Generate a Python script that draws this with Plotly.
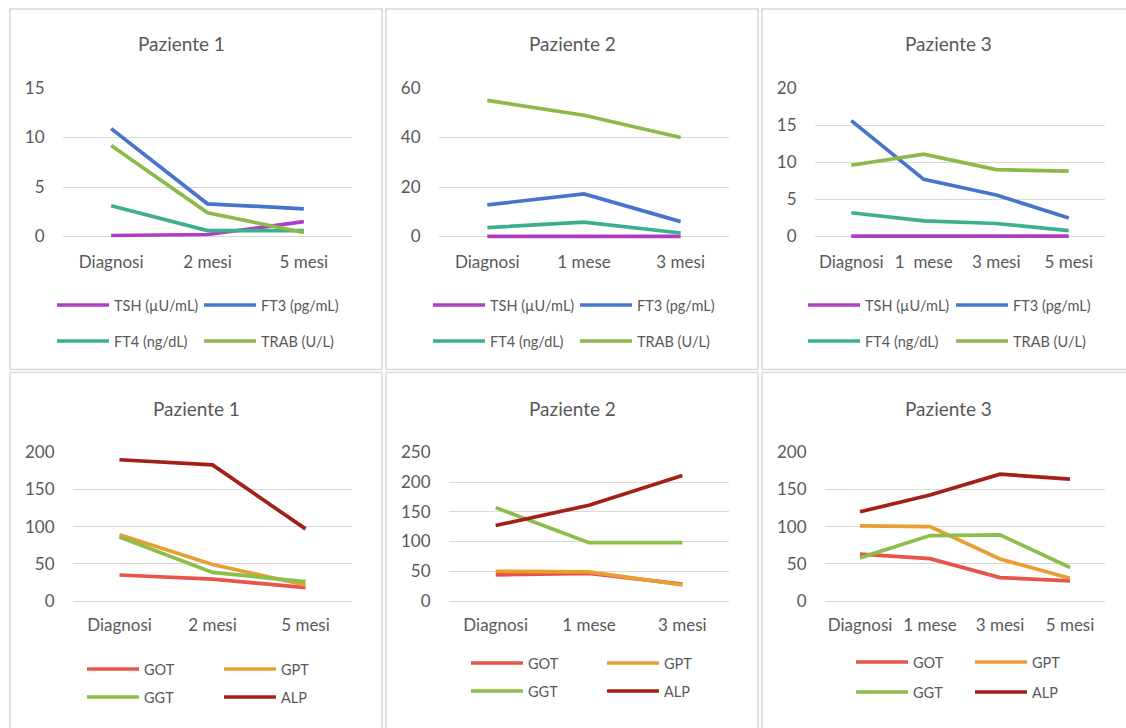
import plotly.graph_objects as go

W, H = 1126, 728

# ---------------- data ----------------
cat_p1 = ["Diagnosi", "2 mesi", "5 mesi"]
cat_p2 = ["Diagnosi", "1 mese", "3 mesi"]
cat_p3_top = ["Diagnosi", "1\u00a0 mese", "3 mesi", "5 mesi"]
cat_p3_bot = ["Diagnosi", "1 mese", "3 mesi", "5 mesi"]

thyroid_names = ["TSH (µU/mL)", "FT3 (pg/mL)", "FT4 (ng/dL)", "TRAB (U/L)"]
p1_tsh = [0.1, 0.2, 1.5]
p1_ft3 = [10.9, 3.3, 2.8]
p1_ft4 = [3.1, 0.6, 0.6]
p1_trab = [9.2, 2.4, 0.4]

p2_tsh = [0.05, 0.05, 0.05]
p2_ft3 = [12.8, 17.2, 6.0]
p2_ft4 = [3.6, 5.8, 1.4]
p2_trab = [55.0, 49.0, 40.0]

p3_tsh = [0.05, 0.05, 0.05, 0.05]
p3_ft3 = [15.6, 7.7, 5.6, 2.5]
p3_ft4 = [3.2, 2.1, 1.75, 0.8]
p3_trab = [9.6, 11.1, 9.0, 8.8]

liver_names = ["GOT", "GPT", "GGT", "ALP"]
p1_got = [35, 29.5, 18]
p1_gpt = [89, 49, 21.5]
p1_ggt = [86, 38.5, 26]
p1_alp = [190, 183, 97]

p2_got = [44, 46.5, 28.5]
p2_gpt = [50, 49, 27]
p2_ggt = [157, 98, 98]
p2_alp = [127, 161, 211]

p3_got = [63, 57, 31.5, 27]
p3_gpt = [101, 100, 56.5, 30.5]
p3_ggt = [58, 88, 89, 45]
p3_alp = [120, 142.5, 170.5, 164]

titles = ["Paziente 1", "Paziente 2", "Paziente 3", "Paziente 1", "Paziente 2", "Paziente 3"]

thyroid_colors = ["#AE3FC4", "#4674CE", "#3DAE8E", "#8DB84A"]
liver_colors = ["#E8534A", "#E89E32", "#8DBD4A", "#A31F18"]

# ---------------- layout geometry (pixels) ----------------
TXT = "#595959"
GRID = "#D9D9D9"
FONT = "Lato"
LEG_LINE = 52
PAD = 5  # extra pixels below the zero line so lines at 0 are not clipped

def px(x):
    return x / W

def py(y):
    return 1 - y / H

panels = [
    dict(x0=63, x1=352, yt=88, yb=236.5, ymax=15, dt=5, tx=181, ty=43, tl=10,
         lx=(57, 204), ly=(305, 341), cats=cat_p1,
         series=[p1_tsh, p1_ft3, p1_ft4, p1_trab], names=thyroid_names, colors=thyroid_colors),
    dict(x0=439, x1=729, yt=88, yb=236.5, ymax=60, dt=20, tx=572, ty=43, tl=10,
         lx=(433, 580), ly=(305, 341), cats=cat_p2,
         series=[p2_tsh, p2_ft3, p2_ft4, p2_trab], names=thyroid_names, colors=thyroid_colors),
    dict(x0=815, x1=1105, yt=88, yb=236.5, ymax=20, dt=5, tx=948, ty=43, tl=10,
         lx=(808, 956), ly=(305, 341), cats=cat_p3_top,
         series=[p3_tsh, p3_ft3, p3_ft4, p3_trab], names=thyroid_names, colors=thyroid_colors),
    dict(x0=73, x1=352, yt=452.3, yb=601, ymax=200, dt=50, tx=196, ty=408, tl=9,
         lx=(87, 224), ly=(669, 697), cats=cat_p1,
         series=[p1_got, p1_gpt, p1_ggt, p1_alp], names=liver_names, colors=liver_colors),
    dict(x0=449, x1=729, yt=452.3, yb=601, ymax=250, dt=50, tx=572, ty=408, tl=9,
         lx=(471, 607), ly=(663, 691), cats=cat_p2,
         series=[p2_got, p2_gpt, p2_ggt, p2_alp], names=liver_names, colors=liver_colors),
    dict(x0=825, x1=1105, yt=452.3, yb=601, ymax=200, dt=50, tx=948, ty=408, tl=9,
         lx=(856, 975), ly=(662, 692), cats=cat_p3_bot,
         series=[p3_got, p3_gpt, p3_ggt, p3_alp], names=liver_names, colors=liver_colors),
]

frames = [
    (10, 382, 9, 369.5), (386, 758, 9, 369.5), (762, 1140, 9, 369.5),
    (10, 382, 372.5, 740), (386, 758, 372.5, 740), (762, 1140, 372.5, 740),
]

fig = go.Figure()
layout = dict(
    width=W, height=H, margin=dict(l=0, r=0, t=0, b=0, pad=0, autoexpand=False),
    paper_bgcolor="white", plot_bgcolor="white",
    font=dict(family=FONT, color=TXT),
    shapes=[], annotations=[], showlegend=False,
)

for (x0, x1, y0, y1) in frames:
    layout["shapes"].append(dict(
        type="rect", xref="paper", yref="paper",
        x0=px(x0), x1=px(x1), y0=py(y1), y1=py(y0),
        line=dict(color=GRID, width=1.5), fillcolor="rgba(0,0,0,0)", layer="below",
    ))

for i, p in enumerate(panels):
    k = "" if i == 0 else str(i + 1)
    xa, ya = "xaxis" + k, "yaxis" + k
    n = len(p["cats"])
    ppu = (p["yb"] - p["yt"]) / p["ymax"]  # pixels per unit
    ymin = -PAD / ppu
    layout[xa] = dict(
        domain=[px(p["x0"]), px(p["x1"])], anchor="y" + k,
        range=[-0.5, n - 0.5], tickmode="array", tickvals=list(range(n)),
        ticktext=p["cats"], showgrid=False, zeroline=False, showline=False,
        ticks="outside", ticklen=p["tl"] - PAD if p["tl"] > PAD else 0,
        tickcolor="rgba(0,0,0,0)", automargin=False,
        tickfont=dict(size=17, color=TXT, family=FONT), fixedrange=True,
    )
    layout[ya] = dict(
        domain=[py(p["yb"] + PAD), py(p["yt"])], anchor="x" + k,
        range=[ymin, p["ymax"]], tickmode="array",
        tickvals=list(range(0, p["ymax"] + 1, p["dt"])),
        showgrid=True, gridcolor=GRID, gridwidth=1, zeroline=False, showline=False,
        ticks="outside", ticklen=14, tickcolor="rgba(0,0,0,0)", automargin=False,
        tickfont=dict(size=17, color=TXT, family=FONT), fixedrange=True,
    )
    for j in range(4):
        fig.add_trace(go.Scatter(
            x=list(range(n)), y=p["series"][j], name=p["names"][j],
            mode="lines", line=dict(color=p["colors"][j], width=3.7),
            xaxis="x" + k, yaxis="y" + k, hoverinfo="skip",
        ))
        # legend key drawn for each series (2 columns x 2 rows)
        lx0 = p["lx"][j % 2]
        ly0 = p["ly"][j // 2]
        layout["shapes"].append(dict(
            type="line", xref="paper", yref="paper",
            x0=px(lx0), x1=px(lx0 + LEG_LINE), y0=py(ly0), y1=py(ly0),
            line=dict(color=p["colors"][j], width=3.7),
        ))
        layout["annotations"].append(dict(
            text=p["names"][j], x=px(lx0 + LEG_LINE + 3), y=py(ly0),
            xref="paper", yref="paper", xanchor="left", yanchor="middle",
            showarrow=False, font=dict(size=14.5, color=TXT, family=FONT),
        ))
    layout["annotations"].append(dict(
        text=titles[i], x=px(p["tx"]), y=py(p["ty"]), xref="paper", yref="paper",
        xanchor="center", yanchor="middle", showarrow=False,
        font=dict(size=19, color=TXT, family=FONT),
    ))

fig.update_layout(**layout)
fig.write_html(
    "out.html",
    config={"displayModeBar": False},
    post_script="document.body.style.margin='0';document.body.style.overflow='hidden';",
)
